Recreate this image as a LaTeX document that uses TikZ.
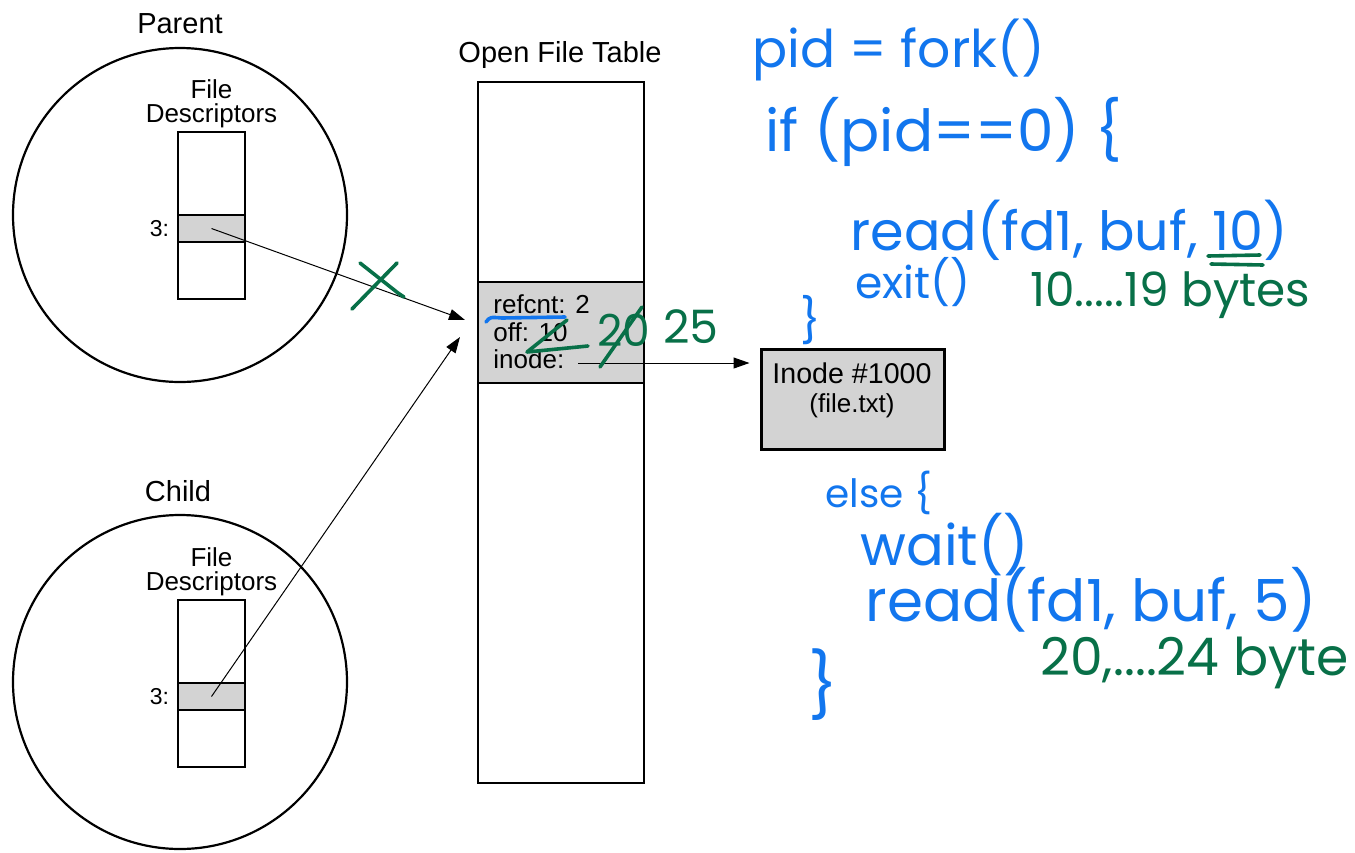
\documentclass[tikz,border=0pt]{standalone}
\usepackage{fontspec}
\setmainfont{Liberation Sans}
\newfontfamily\handfont{Poppins}
\usetikzlibrary{arrows.meta, positioning}

\definecolor{penblue}{RGB}{18,118,238}
\definecolor{pengreen}{RGB}{8,112,72}
\definecolor{slotgray}{RGB}{211,211,211}

\begin{document}
\begin{tikzpicture}[x=0.5pt, y=-0.5pt,
    proc/.style={draw, circle, line width=1.1pt, minimum size=167pt, inner sep=0pt},
    fdbox/.style={draw, line width=0.6pt, minimum width=33.5pt, minimum height=83.5pt, inner sep=0pt},
    fdslot/.style={draw, fill=slotgray, line width=0.6pt, minimum width=33.5pt, minimum height=13.5pt, inner sep=0pt},
    fdlbl/.style={align=center, inner sep=0pt, font=\fontsize{13}{12}\selectfont},
    ptr/.style={-{Triangle[length=8pt, width=5.5pt]}, line width=0.5pt},
    field/.style={anchor=base west, inner sep=0pt, font=\fontsize{13}{15}\selectfont},
    code/.style={text=penblue, anchor=west, inner sep=0pt},
    note/.style={text=pengreen, anchor=west, inner sep=0pt},
    ink/.style={line width=1.8pt, line cap=round, line join=round}]
  \useasboundingbox (0,0) rectangle (1355,852);

  % parent
  \node[proc] (parent) at (180,215) {};
  \node[font=\fontsize{14.5}{16}\selectfont] (parentlbl) at (180,24) {Parent};
  \node[fdbox] (pfd) at (211.5,215.5) {};
  \node[fdslot] (pslot) at (211.5,228.5) {};
  \node[fdlbl, above=1.5pt of pfd] (pfdlbl) {File\\Descriptors};
  \node[inner sep=0pt, font=\fontsize{11.5}{13}\selectfont, left=4pt of pslot] (pnum) {3:};

  % child
  \node[proc] (child) at (180,682) {};
  \node[font=\fontsize{14.5}{16}\selectfont] (childlbl) at (178,491) {Child};
  \node[fdbox] (cfd) at (211.5,683.5) {};
  \node[fdslot] (cslot) at (211.5,696.5) {};
  \node[fdlbl, above=1.5pt of cfd] (cfdlbl) {File\\Descriptors};
  \node[inner sep=0pt, font=\fontsize{11.5}{13}\selectfont, left=4pt of cslot] (cnum) {3:};

  % open file table
  \node[draw, line width=1.2pt, minimum width=83pt, minimum height=350.5pt, inner sep=0pt] (oft) at (561,432.5) {};
  \node[draw, fill=slotgray, line width=1.2pt, minimum width=83pt, minimum height=50.5pt, inner sep=0pt] (entry) at (561,332.5) {};
  \node[font=\fontsize{14.5}{16}\selectfont] (oftlbl) at (560,55) {Open File Table};
  \node[field] (refcnt) at (493,313) {refcnt: 2};
  \node[field] (off) at (493,341) {off: 10};
  \node[field] (inodef) at (493,368) {inode:};

  % inode
  \node[draw, fill=slotgray, line width=1.5pt, minimum width=91.5pt, minimum height=50pt, inner sep=0pt] (inode) at (852.5,399) {};
  \node[font=\fontsize{14.3}{16}\selectfont] (inodelbl) at (852,373) {Inode \#1000};
  \node[font=\fontsize{13}{15}\selectfont] (filelbl) at (852,406) {(file.txt)};

  % pointers
  \coordinate (pend) at (465,320);
  \coordinate (cend) at (460,337);
  \coordinate (ino) at (578,363);
  \draw[ptr] (pslot.center) -- (pend);
  \draw[ptr] (cslot.center) -- (cend);
  \draw[ptr, shorten >=5pt] (ino) -- (ino -| inode.west);

  % pen notes
  \node[code, font=\handfont\fontsize{26}{30}\selectfont] (forkln) at (752,50) {pid = fork()};
  \node[code, font=\handfont\fontsize{29}{30}\selectfont] (ifln) at (765,132) {if (pid==0) \{};
  \node[code, font=\handfont\fontsize{27}{30}\selectfont] (read1) at (850,230) {read(fd1, buf, 10)};
  \node[code, font=\handfont\fontsize{22}{24}\selectfont] (exitln) at (855,282) {exit()};
  \node[note, font=\handfont\fontsize{23.5}{26}\selectfont] (bytes1) at (1030,295) {10.....19 bytes};
  \node[code, font=\handfont\fontsize{22}{24}\selectfont] (close1) at (800,320) {\}};
  \node[code, font=\handfont\fontsize{19.5}{22}\selectfont] (elseln) at (825,493) {else \{};
  \node[code, font=\handfont\fontsize{28}{30}\selectfont] (waitln) at (860,545) {wait()};
  \node[code, font=\handfont\fontsize{29}{30}\selectfont] (read2) at (865,600) {read(fd1, buf, 5)};
  \node[note, font=\handfont\fontsize{26}{28}\selectfont] (bytes2) at (1040,663) {20,....24 byte};
  \node[code, font=\handfont\fontsize{32}{34}\selectfont] (close2) at (808,685) {\}};
  \node[note, font=\handfont\fontsize{22}{24}\selectfont] (newoff1) at (597,330) {20};
  \node[note, font=\handfont\fontsize{23}{24}\selectfont] (newoff2) at (663,327) {25};

  \draw[ink, penblue] (486,322) .. controls (490,317) .. (502,318) -- (565,317);
  \draw[ink, pengreen] (567,320) -- (527,352) -- (588,346);
  \draw[ink, pengreen] (600,367) -- (642,307);
  \draw[ink, pengreen] (360,263) -- (398,293) -- (404,297);
  \draw[ink, pengreen] (397,263) -- (352,309);
  \draw[ink, pengreen] (1208,256) -- (1260,255);
  \draw[ink, pengreen] (1211,264) -- (1263,265);
\end{tikzpicture}
\end{document}
